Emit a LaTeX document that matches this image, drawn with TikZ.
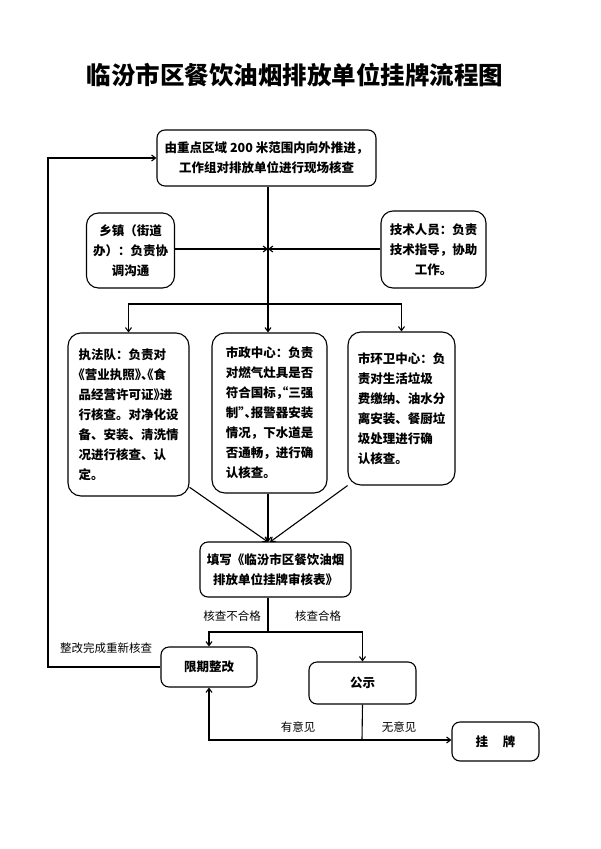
\documentclass[tikz,border=0pt]{standalone}
\usepackage{fontspec}
\setmainfont{Noto Sans CJK SC}
\usepackage{tikz}
\usetikzlibrary{arrows.meta,calc}
\newcommand{\hp}[1]{{\addfontfeature{RawFeature=+halt}#1}}

\begin{document}
\begin{tikzpicture}[x=1pt,y=-1pt,line width=1.1pt,
	>={Straight Barb[length=4pt,width=6pt]},
	box/.style={draw,rounded corners=8pt,inner sep=0,align=center,
		font=\fontsize{12.5}{20}\selectfont\bfseries},
	tall/.style={box,rounded corners=13pt,align=left},
	tag/.style={inner sep=0,font=\fontsize{11.5}{14}\selectfont}]
\useasboundingbox (0,0) rectangle (600,849);

\node[inner sep=0,font=\fontsize{24.5}{28}\selectfont\bfseries] (title) at (295,75) {临汾市区餐饮油烟排放单位挂牌流程图};

\node[box,minimum width=219,minimum height=56] (t0) at (266.5,158)
	{由重点区域 200 米范围内向外推进，\\工作组对排放单位进行现场核查};
\node[box,rounded corners=12pt,minimum width=88,minimum height=75] (town) at (130.5,250.5)
	{乡镇（街道\\办）：负责协\\调沟通};
\node[box,rounded corners=12pt,minimum width=105,minimum height=77] (tech) at (433.5,249.5)
	{技术人员：负责\\技术指导，协助\\工作。};

\node[tall,minimum width=121,minimum height=163] (law) at (128.5,414.5)
	{执法队：负责对\\\hp{《营业执照》、《食}\\\hp{品经营许可证》进}\\行核查。对净化设\\备、安装、清洗情\\况进行核查、认\\定。};
\node[tall,minimum width=115,minimum height=160] (city) at (269.5,413)
	{市政中心：负责\\对燃气灶具是否\\\hp{符合国标，“三强}\\\hp{制”、报警器安装}\\情况，下水道是\\否通畅，进行确\\认核查。};
\node[tall,minimum width=107,minimum height=153] (env) at (401.5,408.5)
	{市环卫中心：负\\责对生活垃圾\\费缴纳、油水分\\离安装、餐厨垃\\圾处理进行确\\认核查。};

\node[box,minimum width=151,minimum height=55] (form) at (275.5,569.5)
	{填写《临汾市区餐饮油烟\\排放单位挂牌审核表》};
\node[box,minimum width=96,minimum height=40] (fix) at (209,667) {限期整改};
\node[box,minimum width=107,minimum height=42] (pub) at (362.5,683) {公示};
\node[box,minimum width=87,minimum height=39] (plate) at (495.5,741.5) {挂\hspace{1.2em}牌};

\coordinate (hub) at (268,249);
\coordinate (split) at (268,304);
\coordinate (join) at (268,542);
\coordinate (js) at (268,632);
\coordinate (jb) at (362,740);
\coordinate (back) at (48,667);

% top part
\draw (t0.south -| hub) -- (split);
\draw[->] (town.east |- hub) -- (hub);
\draw[->] (tech.west |- hub) -- (hub);
\draw[->] (split) -| (law.north);
\draw[->] (split) -- (split |- city.north);
\draw[->] (split) -| (env.north);

% into the form
\draw[->] (law.-50) -- (join);
\draw[->] (city.south -| join) -- (join);
\draw[->] (env.-125) -- ([xshift=2]join);

% check result
\draw (form.south -| js) -- (js);
\draw[->] (js) -| (fix.north);
\draw[->] (js) -| (pub.north);
\node[tag] (fail) at (232,616) {核查不合格};
\node[tag] (pass) at (318,616) {核查合格};

% publicity
\draw (pub.south) -- (jb);
\draw[->] (jb) -| (fix.south);
\draw[->] (jb) -- (plate.west |- jb);
\node[tag] (objy) at (298,727) {有意见};
\node[tag] (objn) at (399,727) {无意见};

% back to the start
\draw[->] (fix.west) -- (back) |- (t0.west);
\node[tag] (recheck) at (106,648) {整改完成重新核查};
\end{tikzpicture}
\end{document}
